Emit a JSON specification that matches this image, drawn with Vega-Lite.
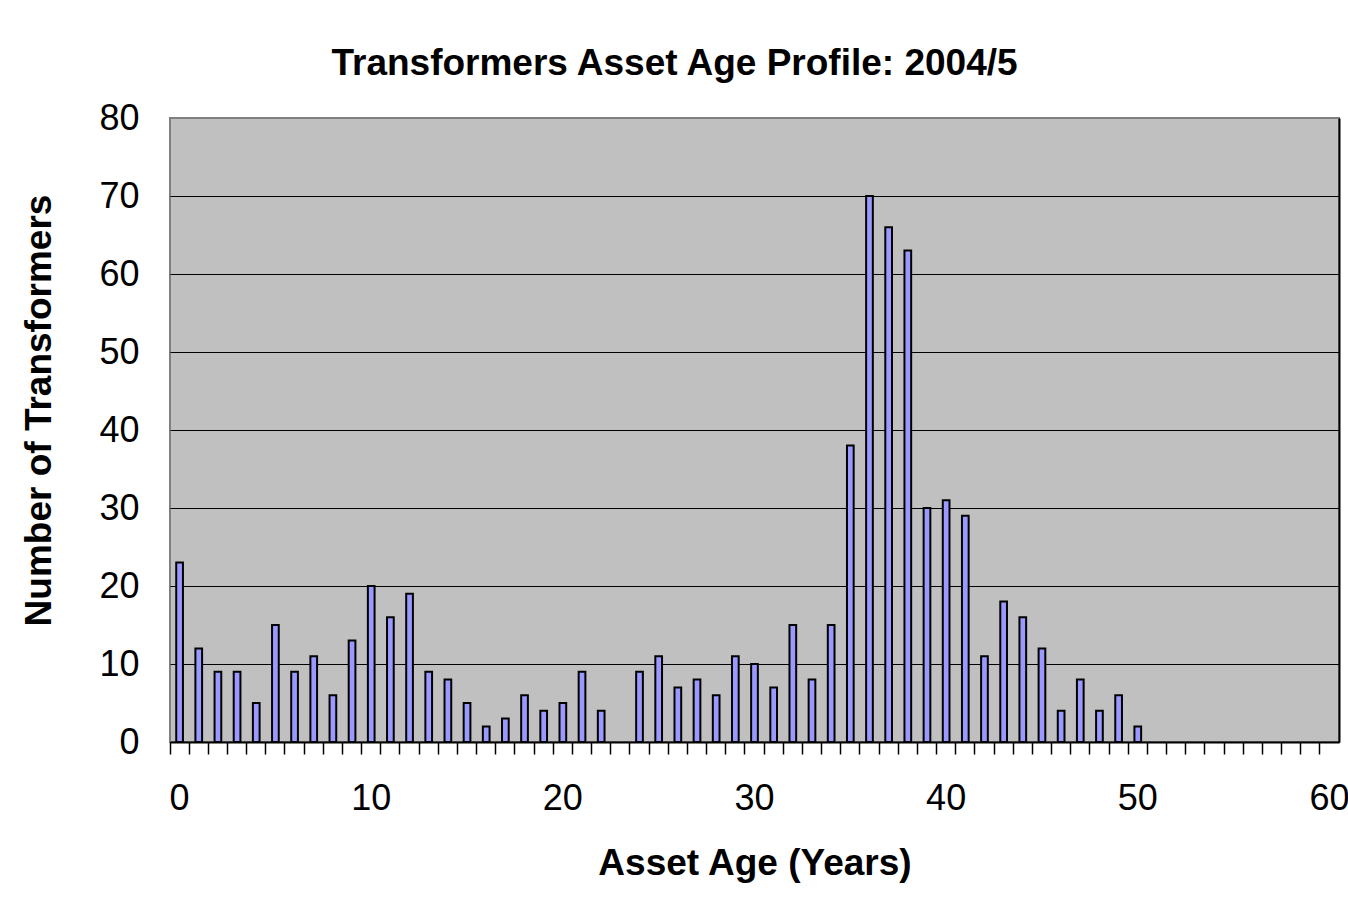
{
  "$schema": "https://vega.github.io/schema/vega-lite/v6.json",
  "width": 1169,
  "height": 624,
  "autosize": {"type": "none"},
  "padding": {"left": 170, "top": 118, "right": 9, "bottom": 179},
  "background": "white",
  "title": {
    "text": "Transformers Asset Age Profile: 2004/5",
    "font": "Liberation Sans",
    "fontSize": 37,
    "fontWeight": "bold",
    "color": "black",
    "anchor": "middle",
    "dx": -80,
    "offset": -12,
    "baseline": "alphabetic"
  },
  "data": {
    "values": [
      {"age": 0, "count": 23}, {"age": 1, "count": 12}, {"age": 2, "count": 9}, {"age": 3, "count": 9},
      {"age": 4, "count": 5}, {"age": 5, "count": 15}, {"age": 6, "count": 9}, {"age": 7, "count": 11},
      {"age": 8, "count": 6}, {"age": 9, "count": 13}, {"age": 10, "count": 20}, {"age": 11, "count": 16},
      {"age": 12, "count": 19}, {"age": 13, "count": 9}, {"age": 14, "count": 8}, {"age": 15, "count": 5},
      {"age": 16, "count": 2}, {"age": 17, "count": 3}, {"age": 18, "count": 6}, {"age": 19, "count": 4},
      {"age": 20, "count": 5}, {"age": 21, "count": 9}, {"age": 22, "count": 4}, {"age": 23, "count": 0},
      {"age": 24, "count": 9}, {"age": 25, "count": 11}, {"age": 26, "count": 7}, {"age": 27, "count": 8},
      {"age": 28, "count": 6}, {"age": 29, "count": 11}, {"age": 30, "count": 10}, {"age": 31, "count": 7},
      {"age": 32, "count": 15}, {"age": 33, "count": 8}, {"age": 34, "count": 15}, {"age": 35, "count": 38},
      {"age": 36, "count": 70}, {"age": 37, "count": 66}, {"age": 38, "count": 63}, {"age": 39, "count": 30},
      {"age": 40, "count": 31}, {"age": 41, "count": 29}, {"age": 42, "count": 11}, {"age": 43, "count": 18},
      {"age": 44, "count": 16}, {"age": 45, "count": 12}, {"age": 46, "count": 4}, {"age": 47, "count": 8},
      {"age": 48, "count": 4}, {"age": 49, "count": 6}, {"age": 50, "count": 2}, {"age": 51, "count": 0},
      {"age": 52, "count": 0}, {"age": 53, "count": 0}, {"age": 54, "count": 0}, {"age": 55, "count": 0},
      {"age": 56, "count": 0}, {"age": 57, "count": 0}, {"age": 58, "count": 0}, {"age": 59, "count": 0},
      {"age": 60, "count": 0}
    ]
  },
  "transform": [{"filter": "datum.count > 0"}],
  "encoding": {
    "x": {
      "field": "age",
      "type": "ordinal",
      "scale": {
        "domain": [0,1,2,3,4,5,6,7,8,9,10,11,12,13,14,15,16,17,18,19,20,21,22,23,24,25,26,27,28,29,30,31,32,33,34,35,36,37,38,39,40,41,42,43,44,45,46,47,48,49,50,51,52,53,54,55,56,57,58,59,60],
        "paddingInner": 0,
        "paddingOuter": 0
      },
      "axis": {
        "title": "Asset Age (Years)",
        "bandPosition": 0,
        "labelExpr": "datum.value % 10 === 0 ? datum.label : ''",
        "labelDx": 9.58,
        "labelAngle": 0,
        "labelOverlap": false,
        "labelBound": false,
        "labelFlush": false,
        "tickSize": 12,
        "tickColor": "black",
        "tickWidth": 1.5,
        "domainColor": "black",
        "domainWidth": 2,
        "grid": false,
        "labelFont": "Liberation Sans",
        "labelFontSize": 36,
        "labelColor": "black",
        "labelPadding": 27,
        "titleFont": "Liberation Sans",
        "titleFontSize": 37,
        "titleFontWeight": "bold",
        "titleColor": "black",
        "titlePadding": 29
      }
    }
  },
  "layer": [
    {
      "mark": {"type": "bar", "fill": "#9999FF", "stroke": "black", "strokeWidth": 2, "width": {"band": 0.35}},
      "encoding": {
        "y": {
          "field": "count",
          "type": "quantitative",
          "scale": {"domain": [0, 80], "nice": false},
          "axis": {
            "title": "Number of Transformers",
            "orient": "left",
            "values": [0, 10, 20, 30, 40, 50, 60, 70, 80],
            "ticks": false,
            "tickSize": 0,
            "domain": false,
            "grid": true,
            "gridColor": {"condition": {"test": "datum.value >= 80", "value": "#808080"}, "value": "black"},
            "gridWidth": 1.2,
            "labelFont": "Liberation Sans",
            "labelFontSize": 36,
            "labelColor": "black",
            "labelPadding": 31,
            "titleFont": "Liberation Sans",
            "titleFontSize": 37,
            "titleFontWeight": "bold",
            "titleColor": "black",
            "titlePadding": 40,
            "titleY": 292
          }
        }
      }
    },
    {
      "mark": {"type": "bar", "opacity": 0, "width": {"band": 0.35}},
      "encoding": {
        "y": {
          "field": "count",
          "type": "quantitative",
          "scale": {"domain": [0, 80], "nice": false},
          "axis": {
            "title": null,
            "orient": "right",
            "labels": false,
            "ticks": false,
            "grid": false,
            "domain": true,
            "domainColor": "black",
            "domainWidth": 2
          }
        }
      }
    }
  ],
  "resolve": {"axis": {"y": "independent"}},
  "config": {
    "view": {"fill": "#C0C0C0", "stroke": "#808080", "strokeWidth": 2}
  }
}
